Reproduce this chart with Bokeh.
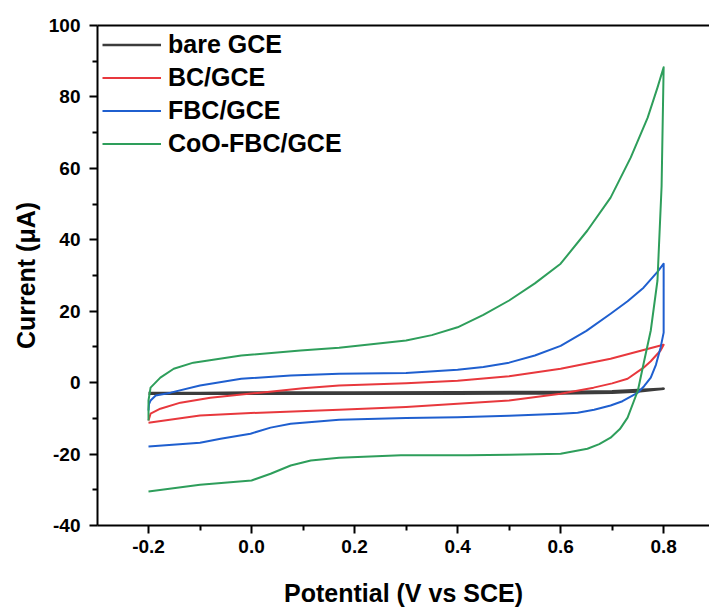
from bokeh.plotting import figure
from bokeh.models import Range1d, FixedTicker, LinearAxis, Legend, LegendItem, CustomJSTickFormatter
from bokeh.embed import file_html
from bokeh.resources import INLINE

FONT = "Liberation Sans"

# ---- data ----
bare_x = [-0.2, -0.1, 0.0, 0.2, 0.4, 0.6, 0.7, 0.75, 0.8,
          0.75, 0.7, 0.6, 0.4, 0.2, 0.0, -0.1, -0.2]
bare_y = [-2.9, -2.9, -2.8, -2.8, -2.7, -2.6, -2.4, -2.1, -1.7,
          -2.5, -2.8, -3.0, -3.1, -3.1, -3.1, -3.1, -3.1]

bc_x = [-0.2, -0.196, -0.177, -0.138, -0.08, 0.017, 0.1, 0.17, 0.3, 0.4, 0.5, 0.6, 0.697, 0.75, 0.794, 0.8,
        0.794, 0.775, 0.761, 0.73, 0.7, 0.664, 0.6, 0.5, 0.4, 0.3, 0.17, 0.017, -0.1, -0.2]
bc_y = [-10.6, -8.7, -7.3, -5.6, -4.2, -2.8, -1.6, -0.8, -0.2, 0.5, 1.8, 3.9, 6.7, 8.7, 10.4, 10.6,
        9.0, 6.0, 4.2, 1.1, -0.2, -1.4, -3.1, -5.0, -5.9, -6.8, -7.6, -8.4, -9.2, -11.2]

fbc_x = [-0.2, -0.199, -0.196, -0.186, -0.157, -0.1, -0.02, 0.076, 0.17, 0.3, 0.4, 0.45, 0.5, 0.55, 0.6,
         0.65, 0.697, 0.73, 0.761, 0.788, 0.8,
         0.8, 0.8, 0.794, 0.785, 0.775, 0.762, 0.75, 0.72, 0.697, 0.665, 0.633, 0.6, 0.5, 0.4, 0.3, 0.17,
         0.076, 0.037, -0.002, -0.06, -0.1, -0.2]
fbc_y = [-7.8, -6.0, -5.0, -3.6, -2.8, -0.8, 1.1, 2.0, 2.5, 2.7, 3.6, 4.4, 5.6, 7.6, 10.3,
         14.5, 19.3, 22.8, 26.6, 31.0, 33.3,
         23.0, 14.0, 9.8, 5.0, 1.4, -1.0, -2.8, -5.2, -6.4, -7.6, -8.4, -8.7, -9.3, -9.7, -9.9, -10.4,
         -11.5, -12.6, -14.3, -15.7, -16.8, -17.9]

coo_x = [-0.2, -0.2, -0.196, -0.177, -0.151, -0.113, -0.02, 0.095, 0.17, 0.3, 0.35, 0.4,
         0.45, 0.5, 0.55, 0.6, 0.652, 0.697, 0.736, 0.769, 0.788, 0.8,
         0.796, 0.788, 0.775, 0.761, 0.75, 0.73, 0.715, 0.697, 0.675, 0.652, 0.6, 0.5, 0.42, 0.29, 0.17,
         0.115, 0.076, 0.037, 0.0, -0.1, -0.2]
coo_y = [-10.6, -5.0, -1.4, 1.4, 3.9, 5.6, 7.6, 9.0, 9.8, 11.8, 13.3, 15.5,
         19.0, 23.0, 27.8, 33.3, 42.6, 51.8, 63.0, 74.2, 82.6, 88.3,
         55.0, 28.6, 14.6, 5.3, -2.2, -9.8, -13.0, -15.4, -17.2, -18.5, -19.9, -20.2, -20.3, -20.3, -21.0,
         -21.8, -23.2, -25.5, -27.4, -28.6, -30.5]

labels = ["bare GCE", "BC/GCE", "FBC/GCE", "CoO-FBC/GCE"]
colors = ["#3c3c3c", "#e8383d", "#1f5fcf", "#2e9e5b"]

x_major = [-0.2, 0.0, 0.2, 0.4, 0.6, 0.8]
x_minor = [-0.3, -0.1, 0.1, 0.3, 0.5, 0.7]
y_major = [-40, -20, 0, 20, 40, 60, 80, 100]
y_minor = [-30, -10, 10, 30, 50, 70, 90]

p = figure(width=709, height=610, output_backend="svg", toolbar_location=None,
           x_range=Range1d(-0.299, 0.889), y_range=Range1d(-40, 100),
           min_border_left=97, min_border_right=0, min_border_top=25, min_border_bottom=85)
p.grid.visible = False
p.outline_line_color = None
p.background_fill_color = "white"
p.border_fill_color = "white"

series = [(bare_x, bare_y), (bc_x, bc_y), (fbc_x, fbc_y), (coo_x, coo_y)]
items = []
for (xs, ys), lab, col in zip(series, labels, colors):
    w = 2.6 if lab == "bare GCE" else 2.0
    r = p.line(xs, ys, line_color=col, line_width=w, line_join="round")
    items.append(LegendItem(label=lab, renderers=[r]))

for ax, maj, mnr in ((p.xaxis[0], x_major, x_minor), (p.yaxis[0], y_major, y_minor)):
    ax.ticker = FixedTicker(ticks=maj, minor_ticks=mnr)
    ax.axis_line_width = 2
    ax.major_tick_line_width = 2
    ax.minor_tick_line_width = 2
    ax.major_tick_out = 8
    ax.major_tick_in = 0
    ax.minor_tick_out = 5
    ax.minor_tick_in = 0
    ax.major_label_text_font = FONT
    ax.major_label_text_font_style = "bold"
    ax.major_label_text_font_size = "19px"
    ax.major_label_text_color = "black"
    ax.axis_label_text_font = FONT
    ax.axis_label_text_font_style = "bold"
    ax.axis_label_text_font_size = "25px"
    ax.axis_label_text_color = "black"

p.xaxis[0].formatter = CustomJSTickFormatter(code="return tick.toFixed(1);")
p.yaxis[0].formatter = CustomJSTickFormatter(code="return tick.toFixed(0);")
p.xaxis[0].axis_label = "Potential (V vs SCE)"
p.yaxis[0].axis_label = "Current (μA)"
p.xaxis[0].major_label_standoff = 6
p.xaxis[0].axis_label_standoff = 23
p.yaxis[0].major_label_standoff = 9
p.yaxis[0].axis_label_standoff = 6

top = LinearAxis(major_tick_line_color=None, minor_tick_line_color=None,
                 major_label_text_font_size="0px", axis_line_width=2,
                 ticker=FixedTicker(ticks=[]))
p.add_layout(top, "above")

legend = Legend(items=items, location="top_left", margin=5, padding=6,
                spacing=4, glyph_width=59, glyph_height=29, label_height=29,
                label_standoff=7,
                label_text_font=FONT, label_text_font_style="bold",
                label_text_font_size="25px", label_text_color="black",
                background_fill_alpha=0, border_line_color=None)
p.add_layout(legend)

open("out.html", "w").write(file_html(p, INLINE))
